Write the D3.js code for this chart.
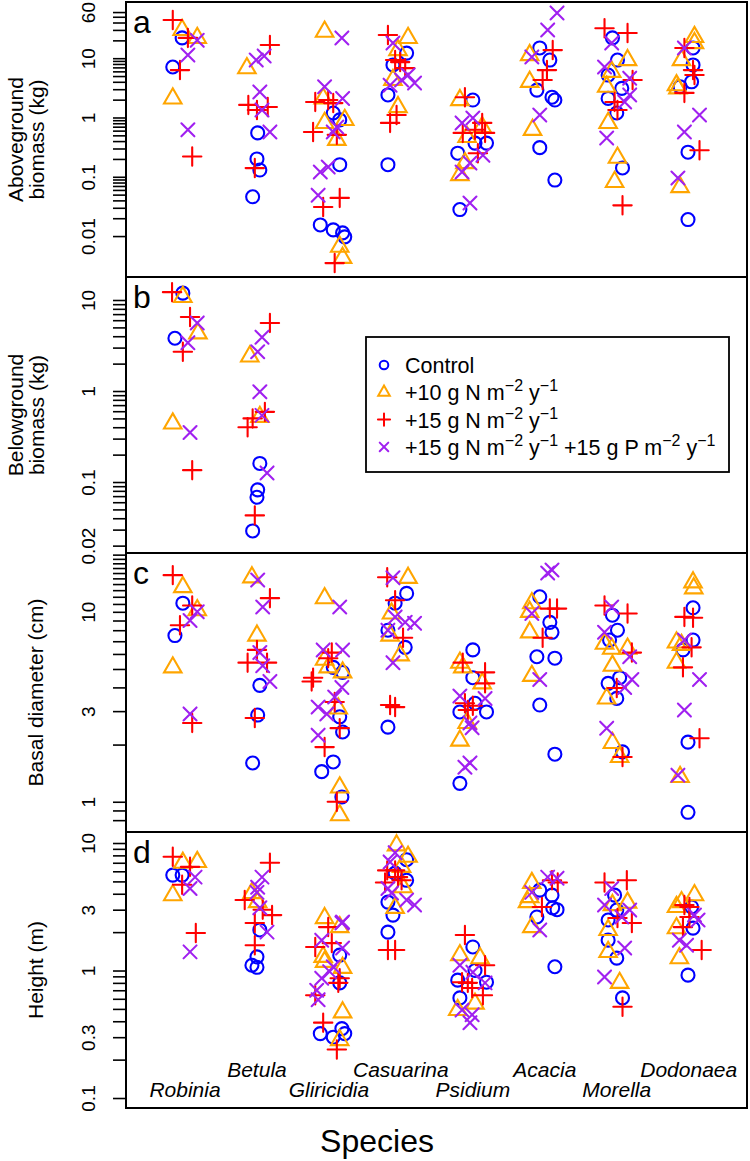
<!DOCTYPE html>
<html><head><meta charset="utf-8">
<script src="https://cdn.jsdelivr.net/npm/d3@7"></script>
<style>body{margin:0;background:#fff}svg{display:block}text{font-family:"Liberation Sans",Arial,Helvetica,sans-serif}</style>
</head><body><svg id="chart" width="750" height="1161"></svg>
<script>
// ---------------- data ----------------
const species = ["Robinia","Betula","Gliricidia","Casuarina","Psidium","Acacia","Morella","Dodonaea"];
const treatmentLabels = ["Control","+10 N","+15 N","+15 N +15 P"];
const treatmentColors = ["#0000FF","#FFA500","#FF0000","#A020F0"];
const xDomain = [0.18, 8.81];

// Each point: [species index (1-8), horizontal jitter (species units), value]
// Panel a: aboveground biomass (kg)
const aControl = [[1,-0.04,22],[1,-0.17,7.1],
 [2,0.01,0.55],[2,0,0.2],[2,0.04,0.13],[2,-0.06,0.046],
 [3,0.06,1.19],[3,0.15,0.91],[3,0.15,0.16],[3,-0.12,0.0154],[3,0.06,0.0127],[3,0.19,0.0113],[3,0.22,0.0097],
 [4,0.08,12.2],[4,-0.11,7.7],[4,-0.18,2.4],[4,-0.18,0.16],
 [5,0,1.97],[5,-0.21,0.25],[5,0.03,0.37],[5,0.19,0.37],[5,-0.18,0.028],
 [6,-0.07,14.9],[6,0.07,9.3],[6,-0.11,2.9],[6,0.1,2.2],[6,0.14,1.97],[6,-0.07,0.31],[6,0.14,0.088],
 [7,-0.06,22],[7,0.01,9.3],[7,-0.12,5.2],[7,0.07,3.1],[7,-0.12,2.1],[7,0,1.19],[7,0.08,0.141],
 [8,0.06,14.9],[8,0.06,7.7],[8,0.04,4.0],[8,-0.12,3.3],[8,-0.01,0.26],[8,-0.01,0.019]];
const aN10 = [[1,-0.04,30],[1,0.17,22],[1,-0.17,2.1],
 [2,-0.14,6.8],
 [3,-0.06,28],[3,-0.08,2.1],[3,-0.06,0.81],[3,0.22,0.91],[3,0.11,0.42],[3,0.15,0.0066],[3,0.19,0.0043],
 [4,0.1,22],[4,-0.04,13.7],[4,-0.11,4.3],[4,-0.04,1.5],
 [5,-0.18,1.97],[5,0.13,0.69],[5,-0.08,0.47],[5,-0.18,0.107],[5,-0.11,0.17],
 [6,-0.21,11.3],[6,-0.21,4.0],[6,-0.17,0.62],
 [7,0.15,9.3],[7,-0.07,5.9],[7,-0.14,3.3],[7,-0.12,0.81],[7,0.01,0.21],[7,-0.03,0.082],
 [8,0.08,22.8],[8,0.08,18],[8,-0.1,9.3],[8,-0.17,3.5],[8,-0.15,3.1],[8,-0.12,0.067]];
const aN15 = [[1,-0.17,44],[1,0.04,22],[1,-0.07,6.3],[1,0.1,0.22],
 [2,0.18,16.7],[2,-0.12,1.63],[2,0,1.34],[2,0.15,1.5],[2,-0.03,0.14],
 [3,-0.19,1.83],[3,-0.01,1.97],[3,0.06,1.75],[3,-0.22,0.57],[3,0.11,0.51],[3,-0.08,0.031],[3,0.15,0.044],[3,0.08,0.0035],
 [4,-0.18,24.6],[4,-0.08,9.3],[4,-0.01,8.6],[4,0.06,6.8],[4,-0.06,1.1],[4,-0.15,0.81],
 [5,-0.11,2.2],[5,-0.14,0.55],[5,0.03,0.62],[5,0.13,0.81],[5,0.17,0.55],[5,0.07,0.25],
 [6,0.11,13.7],[6,0.03,6.3],[6,-0.03,4.3],
 [7,-0.17,32],[7,0.15,26.6],[7,0.22,4.3],[7,-0.03,1.83],[7,0.01,1.34],[7,0.08,0.033],
 [8,-0.06,14.9],[8,0.06,6.3],[8,0.08,5.2],[8,-0.06,2.6],[8,0.15,0.28]];
const aNP = [[1,0.17,20],[1,0.04,11.3],[1,0.04,0.62],
 [2,-0.01,9.3],[2,0.1,10.9],[2,0.04,2.7],[2,0.07,1.34],[2,0.18,0.57],
 [3,0.18,22],[3,-0.06,3.3],[3,0.19,2.1],[3,0.11,0.69],[3,0.06,0.57],[3,-0.12,0.12],[3,-0.01,0.146],[3,-0.15,0.049],
 [4,-0.11,18],[4,0.1,5.2],[4,0.19,3.8],[4,-0.15,3.5],[4,0.01,4.3],
 [5,-0.15,0.81],[5,0,0.98],[5,0.14,0.23],[5,-0.04,0.17],[5,-0.15,0.12],[5,-0.04,0.036],
 [6,0.17,58],[6,0.04,30],[6,-0.18,10.5],[6,-0.07,1.1],
 [7,-0.07,18],[7,-0.17,7.1],[7,0.18,4.6],[7,0.18,2.4],[7,0.11,1.83],[7,-0.14,0.45],
 [8,-0.06,14.9],[8,0.15,1.1],[8,-0.06,0.57],[8,-0.15,0.095]];

// Panel b: belowground biomass (kg)
const bControl = [[1,-0.03,11.9],[1,-0.14,3.8],[2,0.04,0.16],[2,0.01,0.082],[2,0,0.068],[2,-0.06,0.029]];
const bN10 = [[1,-0.03,10.8],[1,0.18,4.3],[1,-0.17,0.44],[2,-0.10,2.4],[2,0.04,0.52]];
const bN15 = [[1,-0.18,12.2],[1,0.07,6.5],[1,-0.03,2.7],[1,0.10,0.135],[2,0.18,5.6],[2,0.11,0.59],[2,-0.06,0.50],[2,-0.13,0.40],[2,-0.03,0.043]];
const bNP = [[1,0.17,5.6],[1,0.04,3.4],[1,0.07,0.35],[2,0.07,3.9],[2,0.01,2.7],[2,0.04,0.98],[2,0.07,0.54],[2,0.14,0.126]];

// Panel c: basal diameter (cm)
const cControl = [[1,-0.03,11.1],[1,-0.14,7.5],
 [2,0.04,4.1],[2,0.01,2.86],[2,-0.06,1.6],
 [3,0.06,5.1],[3,0.19,4.8],[3,0.15,2.8],[3,0.19,2.33],[3,0.06,1.62],[3,-0.10,1.44],[3,0.18,1.06],
 [4,0.08,12.5],[4,-0.08,11.1],[4,-0.18,8.0],[4,0.06,6.5],[4,-0.18,2.47],
 [5,0,6.3],[5,0,4.5],[5,-0.18,2.97],[5,0.03,3.3],[5,0.19,2.97],[5,-0.18,1.25],
 [6,-0.07,12.0],[6,0.07,8.8],[6,0.1,7.8],[6,-0.11,5.8],[6,0.14,5.7],[6,-0.07,3.23],[6,0.14,1.78],
 [7,-0.06,9.6],[7,0.01,8.0],[7,-0.10,7.1],[7,-0.12,4.2],[7,0.04,4.5],[7,0,3.5],[7,0.08,1.83],
 [8,0.06,10.5],[8,0.06,7.1],[8,-0.08,6.3],[8,-0.01,2.06],[8,-0.01,0.88]];
const cN10 = [[1,-0.03,13.5],[1,0.17,10.2],[1,-0.17,5.1],
 [2,-0.07,15.2],[2,0,7.5],
 [3,-0.06,11.8],[3,-0.06,5.6],[3,-0.01,5.1],[3,0.19,4.8],[3,0.13,3.1],[3,0.15,1.19],[3,0.15,0.85],
 [4,0.1,15.1],[4,-0.13,9.8],[4,-0.15,7.5],[4,-0.01,5.9],
 [5,-0.18,5.4],[5,-0.14,5.1],[5,0.13,4.2],[5,-0.08,2.6],[5,-0.18,2.1],
 [6,-0.18,11.1],[6,-0.21,10.0],[6,-0.21,7.8],[6,-0.18,4.6],
 [7,-0.17,6.8],[7,-0.07,6.4],[7,0.15,6.4],[7,-0.06,5.2],[7,-0.14,3.5],[7,-0.06,2.04],[7,0.04,1.72],
 [8,0.06,14.3],[8,0.07,13.3],[8,-0.17,6.9],[8,-0.10,6.7],[8,-0.17,5.4],[8,-0.12,1.35]];
const cN15 = [[1,-0.17,15.6],[1,0.1,10.8],[1,-0.07,8.5],[1,0.1,2.6],
 [2,0.18,11.8],[2,0,6.3],[2,-0.13,5.4],[2,0.14,5.4],[2,-0.03,2.76],
 [3,0.04,6.1],[3,-0.01,5.7],[3,-0.22,4.5],[3,-0.24,4.3],[3,0.08,3.35],[3,0.15,2.44],[3,-0.06,1.94],[3,0.11,1.0],
 [4,-0.19,15.2],[4,-0.08,11.5],[4,0.03,7.3],[4,-0.15,3.23],[4,-0.08,3.15],
 [5,-0.14,5.4],[5,0.17,4.8],[5,0.17,4.2],[5,-0.11,3.3],[5,0,3.2],[5,-0.07,3.04],
 [6,0.07,10.4],[6,0.17,10.4],[6,-0.03,7.3],
 [7,-0.17,10.8],[7,0.15,9.8],[7,0.21,6.1],[7,0,3.97],[7,0.08,1.72],
 [8,-0.06,9.4],[8,0.06,9.3],[8,0.04,6.5],[8,-0.08,5.1],[8,0.15,2.16]];
const cNP = [[1,0.17,10.0],[1,0.07,9.0],[1,0.07,2.9],
 [2,0.01,14.7],[2,0.08,10.6],[2,0.04,6.1],[2,0.08,5.2],[2,0.18,4.3],
 [3,0.15,10.6],[3,-0.08,6.3],[3,0.19,6.3],[3,0.18,4.0],[3,0.08,3.56],[3,-0.15,3.15],[3,-0.03,2.9],[3,-0.15,2.24],
 [4,-0.11,15.1],[4,-0.08,9.4],[4,0.06,8.8],[4,0.19,8.7],[4,-0.18,8.0],[4,-0.11,5.4],
 [5,-0.18,3.6],[5,0.17,3.5],[5,-0.04,2.6],[5,-0.01,2.45],[5,-0.11,1.52],[5,-0.04,1.6],
 [6,0.1,16.6],[6,0.04,16.0],[6,-0.18,9.8],[6,-0.07,4.4],
 [7,-0.07,10.6],[7,-0.17,7.8],[7,0.18,5.8],[7,0.21,4.4],[7,0.11,4.0],[7,-0.14,2.44],
 [8,-0.06,7.1],[8,0.15,4.4],[8,-0.06,3.04],[8,-0.15,1.38]];

// Panel d: height (m)
const dControl = [[1,-0.17,5.6],[1,-0.04,5.6],
 [2,0.04,2.08],[2,0,1.28],[2,-0.07,1.10],[2,0,1.06],
 [3,0.15,1.32],[3,0.15,0.80],[3,0.18,0.35],[3,-0.12,0.32],[3,0.06,0.30],[3,0.22,0.32],
 [4,0.08,7.4],[4,-0.08,5.8],[4,0.08,5.1],[4,-0.18,3.44],[4,-0.11,2.72],[4,-0.18,2.0],
 [5,0,1.53],[5,-0.21,0.84],[5,0.03,1.0],[5,0.19,0.81],[5,-0.18,0.61],
 [6,-0.07,4.27],[6,0.1,3.9],[6,0.11,3.1],[6,0.17,3.0],[6,-0.11,2.63],[6,0.14,1.07],
 [7,-0.03,3.9],[7,0,2.98],[7,-0.12,2.49],[7,-0.12,1.73],[7,0,1.25],[7,0.08,0.61],
 [8,0.04,3.15],[8,0.06,2.15],[8,-0.01,0.92]];
const dN10 = [[1,-0.03,7.0],[1,0.17,7.1],[1,-0.17,3.9],
 [2,-0.07,4.05],[2,0.01,3.44],
 [3,-0.06,2.58],[3,0.15,2.19],[3,-0.08,1.28],[3,-0.06,1.17],[3,0.19,1.05],[3,0.19,0.47],[3,0.15,0.285],
 [4,-0.06,9.6],[4,0.1,7.8],[4,0.01,6.5],[4,0.03,4.5],[4,-0.08,3.1],
 [5,-0.18,1.32],[5,0.1,1.25],[5,-0.21,0.49],[5,0.03,0.55],
 [6,-0.18,4.86],[6,-0.21,3.77],[6,-0.24,3.44],[6,-0.18,2.19],
 [7,-0.06,3.26],[7,0.15,3.4],[7,-0.12,2.08],[7,-0.12,1.40],[7,0.04,0.80],
 [8,0.08,3.9],[8,-0.17,3.15],[8,-0.10,3.44],[8,-0.17,2.15],[8,-0.13,1.25]];
const dN15 = [[1,-0.17,7.8],[1,0.07,6.5],[1,-0.04,4.7],[1,0.15,1.97],
 [2,0.18,7.0],[2,-0.17,3.57],[2,0.08,3.0],[2,0.21,2.72],[2,-0.03,2.36],[2,-0.03,1.58],
 [3,-0.01,2.19],[3,0.04,1.64],[3,-0.19,1.53],[3,0.15,0.87],[3,0.13,0.80],[3,-0.19,0.64],[3,-0.08,0.39],[3,0.11,0.24],
 [4,-0.19,6.1],[4,-0.08,6.1],[4,-0.04,5.4],[4,-0.22,4.9],[4,0.01,5.1],[4,-0.18,1.45],[4,-0.08,1.45],
 [5,-0.11,1.9],[5,-0.15,0.81],[5,0.17,1.10],[5,-0.07,0.80],[5,-0.01,0.73],[5,0.14,0.64],
 [6,0.1,5.1],[6,0.18,4.9],[6,-0.04,3.15],
 [7,-0.17,4.9],[7,0.14,5.1],[7,0.01,2.58],[7,0.21,2.36],[7,0.08,0.52],
 [8,-0.06,3.26],[8,0.01,3.15],[8,0.01,2.63],[8,-0.08,2.19],[8,0.18,1.45]];
const dNP = [[1,0.14,5.4],[1,0.07,4.4],[1,0.07,1.40],
 [2,0.07,5.4],[2,0.01,4.5],[2,0,4.1],[2,0.04,3.1],[2,0.14,2.0],
 [3,0.18,2.36],[3,0.19,2.4],[3,-0.10,1.73],[3,0.19,1.5],[3,0.06,1.07],[3,0.01,0.98],[3,-0.10,0.87],[3,-0.17,0.70],[3,-0.15,0.59],
 [4,-0.08,8.4],[4,-0.15,7.1],[4,-0.18,4.4],[4,-0.13,4.05],[4,0.08,3.57],[4,0.19,3.26],
 [5,-0.18,1.10],[5,0,0.97],[5,0.17,0.80],[5,-0.15,0.49],[5,-0.01,0.45],[5,-0.04,0.39],
 [6,0.04,5.4],[6,0.17,5.3],[6,-0.18,4.1],[6,-0.07,2.08],
 [7,-0.17,3.26],[7,-0.07,4.4],[7,0.18,2.98],[7,0.07,2.63],[7,0.11,1.5],[7,-0.17,0.89],
 [8,0.08,2.72],[8,0.13,2.49],[8,-0.13,1.73],[8,-0.03,1.58]];

// Axis domains and ticks
const aDomain = [0.00204, 88.7];
const bDomain = [0.0166, 17.9];
const cDomain = [0.693, 20.4];
const dDomain = [0.0835, 12.2];
const aTicks = [0.01,0.02,0.03,0.04,0.05,0.06,0.07,0.08,0.09,0.1,0.2,0.3,0.4,0.5,0.6,0.7,0.8,0.9,1,2,3,4,5,6,7,8,9,10,20,30,40,50,60];
const aTickLabels = [0.01,0.1,1,10,60];
const bTicks = [0.02,0.03,0.04,0.05,0.06,0.07,0.08,0.09,0.1,0.2,0.3,0.4,0.5,0.6,0.7,0.8,0.9,1,2,3,4,5,6,7,8,9,10];
const bTickLabels = [0.02,0.1,1,10];
const cTicks = [0.8,0.9,1,2,3,4,5,6,7,8,9,10,11,12,13,14,15,16,17,18,19,20];
const cTickLabels = [1,3,10];
const dTicks = [0.1,0.2,0.3,0.4,0.5,0.6,0.7,0.8,0.9,1,2,3,4,5,6,7,8,9,10];
const dTickLabels = [0.1,0.3,1,3,10];

// ---------------- drawing ----------------
const svg = d3.select("#chart");
const L = 126, R = 747;
const x = d3.scaleLinear().domain(xDomain).range([L, R]);

const panels = [
  {letter:"a", top:2, bottom:277, domain:aDomain, ticks:aTicks, labels:aTickLabels, title:["Aboveground","biomass (kg)"], sets:[aControl,aN10,aN15,aNP]},
  {letter:"b", top:277, bottom:553, domain:bDomain, ticks:bTicks, labels:bTickLabels, title:["Belowground","biomass (kg)"], sets:[bControl,bN10,bN15,bNP]},
  {letter:"c", top:553, bottom:832, domain:cDomain, ticks:cTicks, labels:cTickLabels, title:["Basal diameter (cm)"], sets:[cControl,cN10,cN15,cNP]},
  {letter:"d", top:832, bottom:1108, domain:dDomain, ticks:dTicks, labels:dTickLabels, title:["Height (m)"], sets:[dControl,dN10,dN15,dNP]}
];

const TRC0 = 1.55512030155621, TRC1 = TRC0*Math.sqrt(3)/2, TRC2 = TRC0/2;
function symPath(t, r) {
  if (t === 0) return `M${r},0A${r},${r} 0 1,1 ${-r},0A${r},${r} 0 1,1 ${r},0Z`;
  if (t === 1) { const rr = TRC0*r, xc = TRC1*r, yc = TRC2*r; return `M0,${-rr}L${xc},${yc}L${-xc},${yc}Z`; }
  if (t === 2) { const h = Math.SQRT2*r; return `M${-h},0H${h}M0,${-h}V${h}`; }
  return `M${-r},${-r}L${r},${r}M${-r},${r}L${r},${-r}`;
}
const fmt = v => String(v);
const RAD = 6.5;

panels.forEach(p => {
  const y = d3.scaleLog().domain(p.domain).range([p.bottom, p.top]);
  const g = svg.append("g");

  const ax = g.append("g").attr("transform", `translate(${L},0)`)
    .call(d3.axisLeft(y).tickValues(p.ticks).tickSize(13)
      .tickFormat(d => p.labels.some(l => Math.abs(l - d) < 1e-9) ? fmt(d) : ""));
  ax.select(".domain").remove();
  ax.selectAll(".tick line").attr("stroke", "#000").attr("stroke-width", 1.6);
  ax.selectAll(".tick text")
    .attr("x", null).attr("dy", null).attr("fill", "#000")
    .attr("text-anchor", "middle")
    .attr("font-size", 19)
    .attr("font-family", '"Liberation Sans", Arial, sans-serif')
    .attr("transform", "translate(-31,0) rotate(-90)");

  p.sets.forEach((set, ti) => {
    g.append("g").selectAll("path").data(set).join("path")
      .attr("transform", d => `translate(${x(d[0] + d[1])},${y(d[2])})`)
      .attr("d", symPath(ti, RAD))
      .attr("fill", "none")
      .attr("stroke", treatmentColors[ti])
      .attr("stroke-width", 2.1)
      .attr("stroke-linecap", "round");
  });

  g.append("rect").attr("x", L).attr("y", p.top).attr("width", R - L).attr("height", p.bottom - p.top)
    .attr("fill", "none").attr("stroke", "#000").attr("stroke-width", 2);

  g.append("text").attr("x", 133).attr("y", p.top + 31).attr("font-size", 32).text(p.letter);

  const cy = (p.top + p.bottom) / 2;
  if (p.title.length === 2) {
    g.append("text").attr("transform", `translate(23,${cy}) rotate(-90)`).attr("text-anchor", "middle").attr("font-size", 21).text(p.title[0]);
    g.append("text").attr("transform", `translate(44,${cy}) rotate(-90)`).attr("text-anchor", "middle").attr("font-size", 21).text(p.title[1]);
  } else {
    g.append("text").attr("transform", `translate(43,${cy}) rotate(-90)`).attr("text-anchor", "middle").attr("font-size", 21).text(p.title[0]);
  }
});

svg.append("g").selectAll("text").data(species).join("text")
  .attr("x", (d, i) => x(i + 1))
  .attr("y", (d, i) => i % 2 === 0 ? 1097 : 1077)
  .attr("text-anchor", "middle")
  .attr("font-size", 21)
  .attr("font-style", "italic")
  .text(d => d);

svg.append("text").attr("x", 377).attr("y", 1152).attr("text-anchor", "middle").attr("font-size", 32).text("Species");

const lg = svg.append("g");
lg.append("rect").attr("x", 366).attr("y", 337).attr("width", 363).attr("height", 135)
  .attr("fill", "#fff").attr("stroke", "#000").attr("stroke-width", 1.8);
const legendRows = [
  [{t:"Control"}],
  [{t:"+10 g N m"},{t:"\u22122",s:1},{t:" y"},{t:"\u22121",s:1}],
  [{t:"+15 g N m"},{t:"\u22122",s:1},{t:" y"},{t:"\u22121",s:1}],
  [{t:"+15 g N m"},{t:"\u22122",s:1},{t:" y"},{t:"\u22121",s:1},{t:" +15 g P m"},{t:"\u22122",s:1},{t:" y"},{t:"\u22121",s:1}]
];
legendRows.forEach((row, i) => {
  const base = 373 + i * 27.3;
  lg.append("path").attr("transform", `translate(384,${base - 8})`)
    .attr("d", symPath(i, 4.3)).attr("fill", "none")
    .attr("stroke", treatmentColors[i]).attr("stroke-width", 2).attr("stroke-linecap", "round");
  const t = lg.append("text").attr("x", 405).attr("y", base).attr("font-size", 21.5).attr("xml:space", "preserve");
  let prevSup = false;
  row.forEach(seg => {
    const ts = t.append("tspan").text(seg.t);
    if (seg.s) { ts.attr("font-size", 16).attr("dy", prevSup ? 0 : -9); prevSup = true; }
    else { if (prevSup) ts.attr("dy", 9); prevSup = false; }
  });
});
</script></body></html>
